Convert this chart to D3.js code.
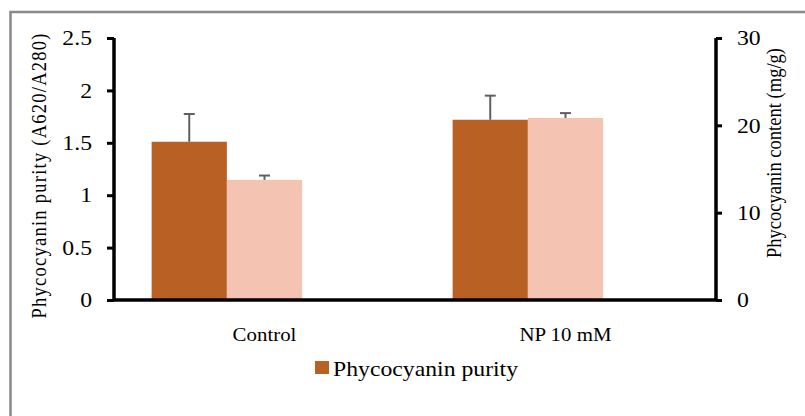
<!DOCTYPE html>
<html>
<head>
<meta charset="utf-8">
<script src="https://cdn.jsdelivr.net/npm/d3@7"></script>
<style>
  body { margin: 0; background: #fff; }
  text { font-family: "Liberation Serif", "Times New Roman", serif; fill: #000; }
</style>
</head>
<body>
<div class="chart"></div>
<script>
// chart data
const categories = ["Control", "NP 10 mM"];
const purity = [1.51, 1.72];
const purityErr = [0.265, 0.23];
const content = [13.75, 20.85];
const contentErr = [0.5, 0.55];
const leftTicks = [0, 0.5, 1, 1.5, 2, 2.5];
const rightTicks = [0, 10, 20, 30];

const width = 805;
const height = 416;
const plotLeft = 114, plotRight = 716, plotTop = 38, plotBottom = 300;
// the source picture is a bit wider than tall, text looks stretched sideways
const stretchX = 1.13;

let svg = d3.select(".chart").append("svg")
    .attr("width", width)
    .attr("height", height);

// outer frame (only top and left visible in the picture)
svg.append("rect")
    .attr("x", 10.5).attr("y", 12)
    .attr("width", 800).attr("height", 430)
    .attr("fill", "none")
    .attr("stroke", "#898989")
    .attr("stroke-width", 2.5);

let xScale = d3.scaleBand()
    .domain(categories)
    .range([plotLeft, plotRight]);

// three slots per category, the third one is empty
let xSub = d3.scaleBand()
    .domain(["purity", "content", "spare"])
    .range([0, xScale.bandwidth()])
    .paddingOuter(0.5);

let yLeft = d3.scaleLinear().domain([0, 2.5]).range([plotBottom, plotTop]);
let yRight = d3.scaleLinear().domain([0, 30]).range([plotBottom, plotTop]);

// bars
const darkColor = "#B96124";
const lightColor = "#F5C3B2";

let groups = svg.selectAll("g.cat")
    .data(categories)
    .enter()
    .append("g")
    .attr("class", "cat")
    .attr("transform", d => "translate(" + xScale(d) + ",0)");

groups.append("rect")
    .attr("x", xSub("purity"))
    .attr("y", (d, i) => yLeft(purity[i]))
    .attr("width", xSub.bandwidth())
    .attr("height", (d, i) => plotBottom - yLeft(purity[i]))
    .attr("fill", darkColor);

groups.append("rect")
    .attr("x", xSub("content"))
    .attr("y", (d, i) => yRight(content[i]))
    .attr("width", xSub.bandwidth())
    .attr("height", (d, i) => plotBottom - yRight(content[i]))
    .attr("fill", lightColor);

// error bars (upper only)
const errColor = "#5f5f5f";
const drawErr = (g, cx, yBar, yCap) => {
    g.append("line")
        .attr("x1", cx).attr("x2", cx)
        .attr("y1", yBar).attr("y2", yCap)
        .attr("stroke", errColor).attr("stroke-width", 2);
    g.append("line")
        .attr("x1", cx - 5.5).attr("x2", cx + 5.5)
        .attr("y1", yCap).attr("y2", yCap)
        .attr("stroke", errColor).attr("stroke-width", 2);
};
groups.each(function (d, i) {
    let g = d3.select(this);
    let c1 = xSub("purity") + xSub.bandwidth() / 2;
    drawErr(g, c1, yLeft(purity[i]), yLeft(purity[i] + purityErr[i]));
    let c2 = xSub("content") + xSub.bandwidth() / 2;
    drawErr(g, c2, yRight(content[i]), yRight(content[i] + contentErr[i]));
});

// widen a text sideways around its own anchor
const widen = sel => sel.each(function () {
    let t = d3.select(this);
    let x = +t.attr("x") || 0;
    t.attr("x", 0)
        .attr("transform", "translate(" + x + ",0) scale(" + stretchX + ",1)");
});

// axes
let leftAxis = d3.axisLeft(yLeft).tickValues(leftTicks)
    .tickFormat(d3.format("")).tickSize(7).tickPadding(15);
let rightAxis = d3.axisRight(yRight).tickValues(rightTicks)
    .tickSize(6).tickPadding(15);
let bottomAxis = d3.axisBottom(xScale).tickSize(0).tickPadding(28);

const styleAxis = g => {
    g.select(".domain").attr("stroke", "#000").attr("stroke-width", 3.5);
    g.selectAll(".tick line").attr("stroke", "#000").attr("stroke-width", 3);
    g.selectAll(".tick text")
        .attr("font-family", "Liberation Serif, Times New Roman, serif")
        .attr("fill", "#000");
};

svg.append("g")
    .attr("transform", "translate(0," + plotBottom + ")")
    .call(bottomAxis)
    .call(styleAxis)
    .call(g => g.select(".domain").attr("d", "M" + plotLeft + ",0H" + plotRight))
    .call(g => g.selectAll(".tick text").attr("font-size", 18.5).call(widen));

svg.append("g")
    .attr("transform", "translate(" + plotLeft + ",0)")
    .call(leftAxis)
    .call(styleAxis)
    .call(g => g.select(".domain").attr("d", "M0," + plotTop + "V" + plotBottom))
    .call(g => g.selectAll(".tick text").attr("font-size", 21).call(widen));

svg.append("g")
    .attr("transform", "translate(" + plotRight + ",0)")
    .call(rightAxis)
    .call(styleAxis)
    .call(g => g.select(".domain").attr("d", "M0," + plotTop + "V" + plotBottom))
    .call(g => g.selectAll(".tick text").attr("font-size", 21).call(widen));

// axis titles
svg.append("text")
    .attr("transform", "translate(46,176) scale(" + stretchX + ",1) rotate(-90)")
    .attr("text-anchor", "middle")
    .attr("font-size", 18.5)
    .attr("textLength", 285)
    .attr("lengthAdjust", "spacing")
    .text("Phycocyanin purity (A620/A280)");

svg.append("text")
    .attr("transform", "translate(781,153) scale(" + stretchX + ",1) rotate(-90)")
    .attr("text-anchor", "middle")
    .attr("font-size", 18.5)
    .attr("textLength", 210)
    .attr("lengthAdjust", "spacing")
    .text("Phycocyanin content (mg/g)");

// legend
svg.append("rect")
    .attr("x", 315).attr("y", 361)
    .attr("width", 14).attr("height", 13)
    .attr("fill", darkColor);
svg.append("text")
    .attr("x", 333).attr("y", 376)
    .attr("font-size", 21)
    .call(widen)
    .text("Phycocyanin purity");
</script>
</body>
</html>
